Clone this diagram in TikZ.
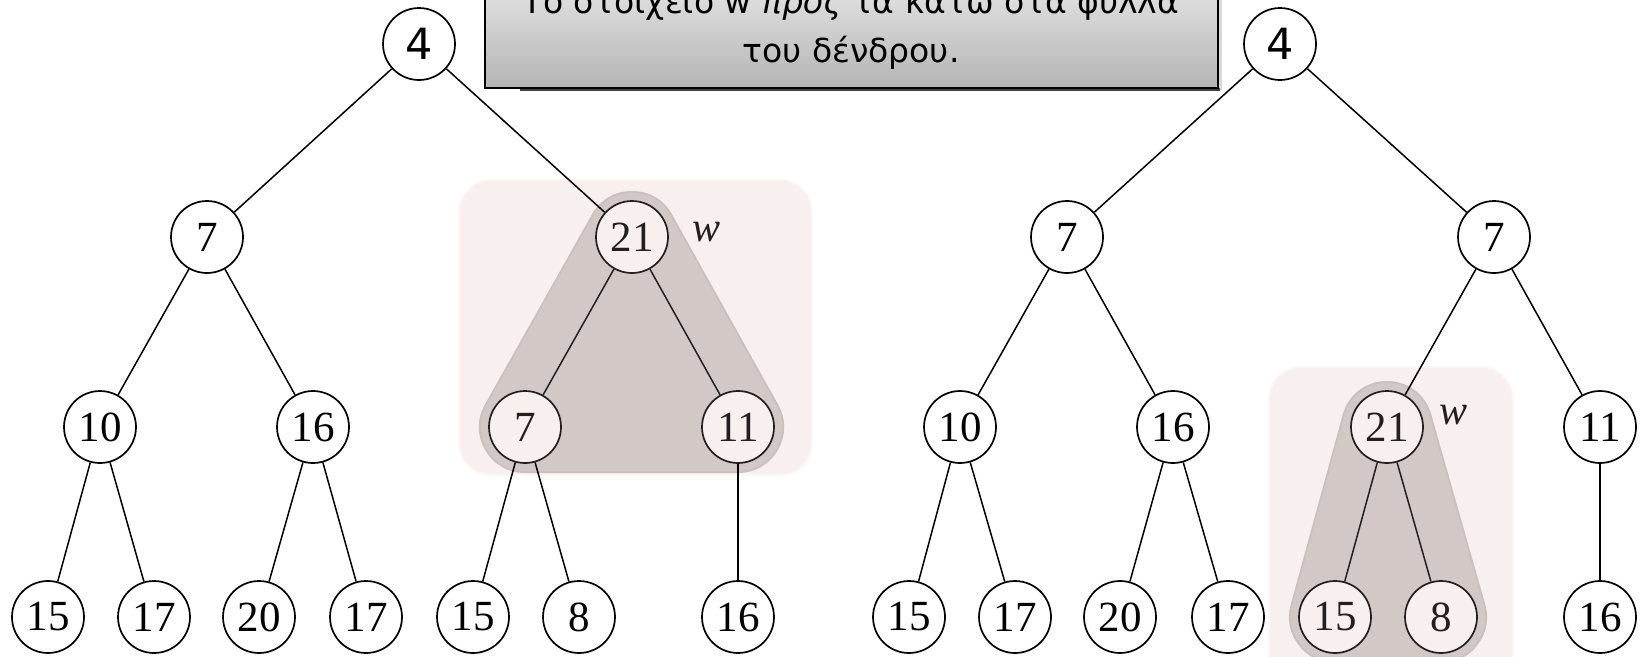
\documentclass[tikz,border=0pt]{standalone}
\usepackage{fontspec}
\setmainfont{Liberation Serif}
\newfontfamily\boxfont{DejaVu Sans}
\usetikzlibrary{backgrounds}
\definecolor{pinkbg}{HTML}{F8F0EE}
\definecolor{pinkrim}{HTML}{FBF7F6}
\definecolor{hullgray}{HTML}{D2C9C7}
\definecolor{hullrim}{HTML}{CAC1BF}
\definecolor{inkdark}{HTML}{231F20}
\definecolor{boxtop}{HTML}{EEEEEE}
\definecolor{boxbot}{HTML}{B4B4B4}
\tikzset{
  nd/.style={circle, draw=black, line width=1.7pt, minimum size=72pt, inner sep=0pt, fill=white,
    font=\fontsize{43}{43}\selectfont},
  ndh/.style={nd, fill=pinkbg, text=inkdark, draw=inkdark},
  rootnd/.style={nd, font=\boxfont\fontsize{43}{43}\selectfont},
  edge/.style={line width=1.5pt, draw=black},
  edgeh/.style={line width=1.5pt, draw=inkdark},
  pinkbox/.style={fill=pinkbg, draw=pinkrim, line width=2pt, rounded corners=32pt},
  hullouter/.style={draw=hullrim, line width=92pt, line join=round, fill=hullrim},
  hullinner/.style={draw=hullgray, line width=88pt, line join=round, fill=hullgray},
  wlabel/.style={font=\fontsize{42}{42}\selectfont\itshape, text=inkdark},
  boxtext/.style={anchor=base, font=\boxfont\fontsize{33}{40}\selectfont}
}
\begin{document}
\begin{tikzpicture}[x=1pt,y=-1pt]
\useasboundingbox (0,0) rectangle (1640,656);
% ---------- left tree ----------
\node[rootnd] (a4) at (419,44) {4};
\node[nd] (a7) at (207,237) {7};
\node[ndh] (a21) at (632,237) {21};
\node[nd] (a10) at (100,427) {10};
\node[nd] (a16) at (313,427) {16};
\node[ndh] (a7b) at (525,427) {7};
\node[ndh] (a11) at (738,427) {11};
\node[nd] (a15) at (48,617) {15};
\node[nd] (a17) at (154,617) {17};
\node[nd] (a20) at (259,617) {20};
\node[nd] (a17b) at (366,617) {17};
\node[nd] (a15b) at (473,617) {15};
\node[nd] (a8) at (579,617) {8};
\node[nd] (a16b) at (738,617) {16};
\node[wlabel] (aw) at (706,232) {w};
\draw[edge] (a4) -- (a7);
\draw[edge] (a4) -- (a21);
\draw[edge] (a7) -- (a10);
\draw[edge] (a7) -- (a16);
\draw[edgeh] (a21) -- (a7b);
\draw[edgeh] (a21) -- (a11);
\draw[edge] (a10) -- (a15);
\draw[edge] (a10) -- (a17);
\draw[edge] (a16) -- (a20);
\draw[edge] (a16) -- (a17b);
\draw[edge] (a7b) -- (a15b);
\draw[edge] (a7b) -- (a8);
\draw[edge] (a11) -- (a16b);
% ---------- right tree ----------
\node[rootnd] (b4) at (1280,44) {4};
\node[nd] (b7) at (1067,237) {7};
\node[nd] (b7b) at (1494,237) {7};
\node[nd] (b10) at (960,427) {10};
\node[nd] (b16) at (1173,427) {16};
\node[ndh] (b21) at (1387,427) {21};
\node[nd] (b11) at (1600,427) {11};
\node[nd] (b15) at (909,617) {15};
\node[nd] (b17) at (1015,617) {17};
\node[nd] (b20) at (1120,617) {20};
\node[nd] (b17b) at (1228,617) {17};
\node[ndh] (b15b) at (1335,617) {15};
\node[ndh] (b8) at (1441,617) {8};
\node[nd] (b16b) at (1600,617) {16};
\node[wlabel] (bw) at (1453,415) {w};
\draw[edge] (b4) -- (b7);
\draw[edge] (b4) -- (b7b);
\draw[edge] (b7) -- (b10);
\draw[edge] (b7) -- (b16);
\draw[edge] (b7b) -- (b21);
\draw[edge] (b7b) -- (b11);
\draw[edge] (b10) -- (b15);
\draw[edge] (b10) -- (b17);
\draw[edge] (b16) -- (b20);
\draw[edge] (b16) -- (b17b);
\draw[edgeh] (b21) -- (b15b);
\draw[edgeh] (b21) -- (b8);
\draw[edge] (b11) -- (b16b);
% ---------- highlight backgrounds ----------
\begin{scope}[on background layer]
  \draw[pinkbox] (459,180) rectangle (812,475);
  \draw[hullouter] (a21.center) -- (a7b.center) -- (a11.center) -- cycle;
  \draw[hullinner] (a21.center) -- (a7b.center) -- (a11.center) -- cycle;
  \draw[pinkbox] (1269,367) rectangle (1513,690);
  \draw[hullouter] (b21.center) -- (b15b.center) -- (b8.center) -- cycle;
  \draw[hullinner] (b21.center) -- (b15b.center) -- (b8.center) -- cycle;
\end{scope}
% ---------- callout box ----------
\fill[black!15] (1219,-40) rectangle (1222,90);
\fill[black!75] (520,88) rectangle (1220,90.5);
\shade[top color=boxtop, bottom color=boxbot] (485,-40) rectangle (1218,88);
\draw[line width=1.7pt] (485,-40) rectangle (1218,88);
\node[boxtext] (t1) at (851,13) {Το στοιχείο w \textit{προς} τα κάτω στα φύλλα};
\node[boxtext] (t2) at (851,62) {του δένδρου.};
\end{tikzpicture}
\end{document}
